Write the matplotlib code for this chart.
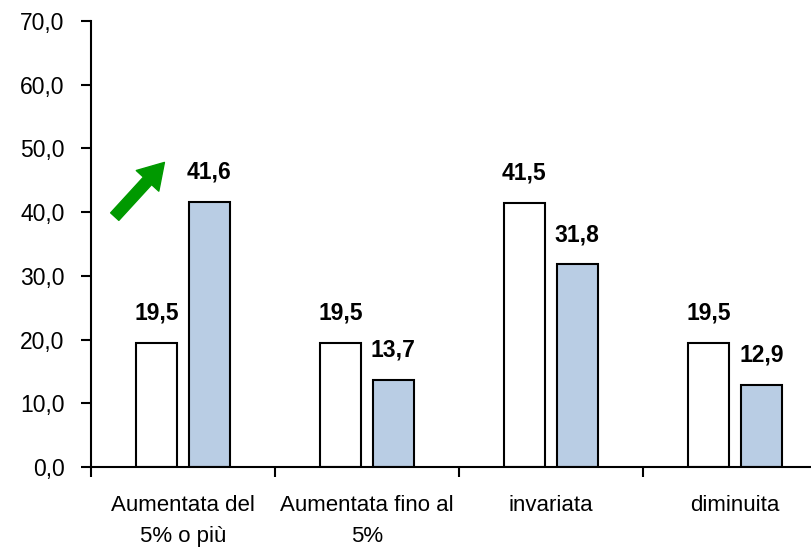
import numpy as np
import matplotlib
matplotlib.use("Agg")
import matplotlib.pyplot as plt

categories = ["Aumentata del\n5% o più", "Aumentata fino al\n5%", "invariata", "diminuita"]
serie_1 = [19.5, 19.5, 41.5, 19.5]
serie_2 = [41.6, 13.7, 31.8, 12.9]

plt.rcParams["font.family"] = ["Liberation Sans", "DejaVu Sans"]

fig = plt.figure(figsize=(8.11, 5.49), dpi=100)
ax = fig.add_axes([0.112, 0.149, 0.9075, 0.813])

x = np.arange(len(categories))
w = 0.223
off = 0.144
b1 = ax.bar(x - off, serie_1, w, color="white", edgecolor="black", linewidth=1.5)
b2 = ax.bar(x + off, serie_2, w, color="#b9cde4", edgecolor="black", linewidth=1.5)

# etichette valori
for bars, vals in [(b1, serie_1), (b2, serie_2)]:
    for b, v in zip(bars, vals):
        ax.annotate(f"{v:.1f}".replace(".", ","), (b.get_x() + b.get_width() / 2, v),
                    xytext=(0, 13), textcoords="offset points",
                    ha="center", va="bottom", fontsize=16.5, fontweight="bold")

ax.set_xlim(-0.5, 3.5)
ax.set_ylim(0, 70)
ax.set_yticks(np.arange(0, 71, 10))
ax.set_yticklabels([f"{t:.1f}".replace(".", ",") for t in np.arange(0, 71, 10)], fontsize=16.5)
ax.set_xticks(x)
ax.set_xticklabels(categories, fontsize=16, linespacing=1.6)
ax.tick_params(axis="x", length=0, pad=20)
ax.set_xticks(np.arange(-0.5, 3.6, 1), minor=True)
ax.tick_params(axis="x", which="minor", length=7, width=1.5, direction="out")
ax.tick_params(axis="y", length=7, width=1.5, direction="out", pad=12)

for s in ["top", "right"]:
    ax.spines[s].set_visible(False)
for s in ["left", "bottom"]:
    ax.spines[s].set_linewidth(1.5)

# freccia verde
ax.annotate("", xy=(-0.1, 47.8), xytext=(-0.37, 39.3),
            arrowprops=dict(arrowstyle="simple,head_width=1.1,head_length=0.9,tail_width=0.4",
                            color="#009900", mutation_scale=20, shrinkA=0, shrinkB=0))

fig.savefig("out.png", dpi=100)
